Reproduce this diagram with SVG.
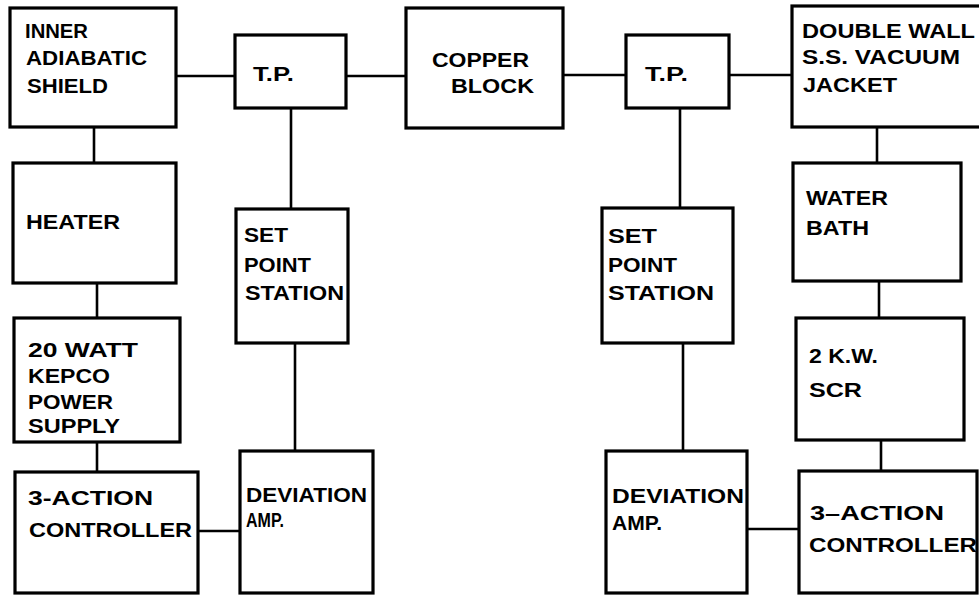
<svg xmlns="http://www.w3.org/2000/svg" width="979" height="596" viewBox="0 0 979 596">
<style>
.box{fill:#fff;stroke:#000;stroke-width:3.2;stroke-linejoin:miter}
.ln{stroke:#000;stroke-width:2.6;fill:none}
text{font-family:"Liberation Sans",Arial,sans-serif;font-weight:bold;font-size:21px;fill:#000}
</style>
<rect width="979" height="596" fill="#fff"/>
<g id="connectors">
<line class="ln" x1="176" y1="76" x2="235" y2="76"/>
<line class="ln" x1="346" y1="76" x2="406" y2="76"/>
<line class="ln" x1="563" y1="75" x2="626" y2="75"/>
<line class="ln" x1="729" y1="75" x2="792" y2="75"/>
<line class="ln" x1="94" y1="127" x2="94" y2="163"/>
<line class="ln" x1="97" y1="283" x2="97" y2="318"/>
<line class="ln" x1="97" y1="442" x2="97" y2="472"/>
<line class="ln" x1="198" y1="531" x2="240" y2="531"/>
<line class="ln" x1="291" y1="108" x2="291" y2="209"/>
<line class="ln" x1="295" y1="343" x2="295" y2="451"/>
<line class="ln" x1="680" y1="108" x2="680" y2="208"/>
<line class="ln" x1="683" y1="343" x2="683" y2="451"/>
<line class="ln" x1="877" y1="127" x2="877" y2="163"/>
<line class="ln" x1="879" y1="281" x2="879" y2="318"/>
<line class="ln" x1="881" y1="440" x2="881" y2="471"/>
<line class="ln" x1="747" y1="529" x2="799" y2="529"/>
</g>
<g id="inner_shield">
<rect class="box" x="10" y="8" width="166" height="119"/>
<text x="25" y="38" textLength="63" lengthAdjust="spacingAndGlyphs">INNER</text>
<text x="26" y="65" textLength="121" lengthAdjust="spacingAndGlyphs">ADIABATIC</text>
<text x="27" y="93" textLength="81" lengthAdjust="spacingAndGlyphs">SHIELD</text>
</g>
<g id="tp_left">
<rect class="box" x="235" y="35" width="111" height="73"/>
<text x="253" y="81" textLength="41" lengthAdjust="spacingAndGlyphs">T.P.</text>
</g>
<g id="copper_block">
<rect class="box" x="406" y="8" width="157" height="120"/>
<text x="432" y="67" textLength="97" lengthAdjust="spacingAndGlyphs">COPPER</text>
<text x="451" y="93" textLength="83" lengthAdjust="spacingAndGlyphs">BLOCK</text>
</g>
<g id="tp_right">
<rect class="box" x="626" y="35" width="103" height="73"/>
<text x="645" y="81" textLength="43" lengthAdjust="spacingAndGlyphs">T.P.</text>
</g>
<g id="vacuum_jacket">
<rect class="box" x="792" y="6" width="200" height="121"/>
<text x="802" y="38" textLength="173" lengthAdjust="spacingAndGlyphs">DOUBLE WALL</text>
<text x="802" y="64" textLength="158" lengthAdjust="spacingAndGlyphs">S.S. VACUUM</text>
<text x="803" y="92" textLength="94" lengthAdjust="spacingAndGlyphs">JACKET</text>
</g>
<g id="heater">
<rect class="box" x="13" y="163" width="163" height="120"/>
<text x="26" y="229" textLength="94" lengthAdjust="spacingAndGlyphs">HEATER</text>
</g>
<g id="power_supply">
<rect class="box" x="14" y="318" width="166" height="124"/>
<text x="28" y="357" textLength="110" lengthAdjust="spacingAndGlyphs">20 WATT</text>
<text x="28" y="383" textLength="82" lengthAdjust="spacingAndGlyphs">KEPCO</text>
<text x="28" y="409" textLength="85" lengthAdjust="spacingAndGlyphs">POWER</text>
<text x="28" y="433" textLength="92" lengthAdjust="spacingAndGlyphs">SUPPLY</text>
</g>
<g id="controller_left">
<rect class="box" x="15" y="472" width="183" height="121"/>
<text x="28" y="505" textLength="125" lengthAdjust="spacingAndGlyphs">3-ACTION</text>
<text x="29" y="537" textLength="163" lengthAdjust="spacingAndGlyphs">CONTROLLER</text>
</g>
<g id="setpoint_left">
<rect class="box" x="236" y="209" width="112" height="134"/>
<text x="244" y="242" textLength="44" lengthAdjust="spacingAndGlyphs">SET</text>
<text x="244" y="272" textLength="67" lengthAdjust="spacingAndGlyphs">POINT</text>
<text x="245" y="300" textLength="99" lengthAdjust="spacingAndGlyphs">STATION</text>
</g>
<g id="deviation_left">
<rect class="box" x="240" y="451" width="133" height="142"/>
<text x="246" y="502" textLength="121" lengthAdjust="spacingAndGlyphs">DEVIATION</text>
<text x="246" y="527" textLength="38" lengthAdjust="spacingAndGlyphs">AMP.</text>
</g>
<g id="setpoint_right">
<rect class="box" x="602" y="208" width="131" height="135"/>
<text x="608" y="243" textLength="49" lengthAdjust="spacingAndGlyphs">SET</text>
<text x="608" y="272" textLength="69" lengthAdjust="spacingAndGlyphs">POINT</text>
<text x="608" y="300" textLength="106" lengthAdjust="spacingAndGlyphs">STATION</text>
</g>
<g id="deviation_right">
<rect class="box" x="606" y="451" width="141" height="142"/>
<text x="612" y="503" textLength="132" lengthAdjust="spacingAndGlyphs">DEVIATION</text>
<text x="612" y="530" textLength="50" lengthAdjust="spacingAndGlyphs">AMP.</text>
</g>
<g id="water_bath">
<rect class="box" x="793" y="163" width="168" height="118"/>
<text x="806" y="205" textLength="82" lengthAdjust="spacingAndGlyphs">WATER</text>
<text x="806" y="235" textLength="63" lengthAdjust="spacingAndGlyphs">BATH</text>
</g>
<g id="scr">
<rect class="box" x="796" y="318" width="168" height="122"/>
<text x="809" y="363" textLength="69" lengthAdjust="spacingAndGlyphs">2 K.W.</text>
<text x="809" y="397" textLength="53" lengthAdjust="spacingAndGlyphs">SCR</text>
</g>
<g id="controller_right">
<rect class="box" x="799" y="471" width="178" height="122"/>
<text x="810" y="520" textLength="134" lengthAdjust="spacingAndGlyphs">3–ACTION</text>
<text x="809" y="552" textLength="168" lengthAdjust="spacingAndGlyphs">CONTROLLER</text>
</g>
</svg>
